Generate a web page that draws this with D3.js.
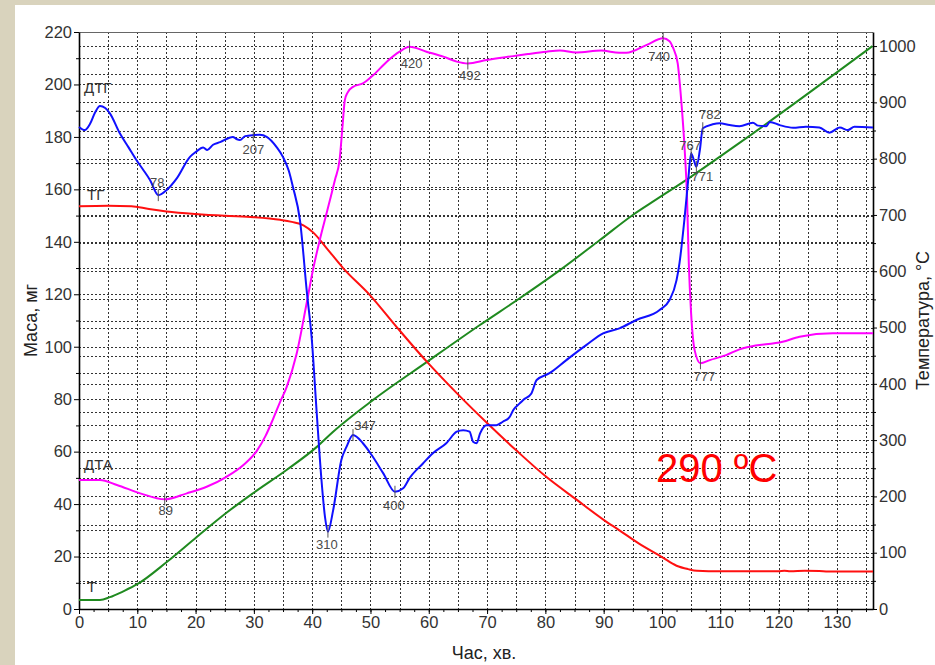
<!DOCTYPE html>
<html>
<head>
<meta charset="utf-8">
<script src="https://cdn.jsdelivr.net/npm/d3@7"></script>
<style>
  body { margin: 0; background: #d9d3bd; }
  svg { display: block; font-family: "Liberation Sans", Arial, sans-serif; }
</style>
</head>
<body>
<svg id="chart"></svg>
<script>
// time, min / values
var tgTime  = [0, 5, 9, 12, 15, 20, 25, 30, 34.5, 36.5, 38.5, 40.2, 42.5, 45.3, 49.9, 54.5, 59.7, 64.8, 70, 75, 80.2, 85.4, 90, 92.7, 96, 100, 102.5, 104.5, 106, 110, 120, 121, 122, 124.5, 127, 128.5, 136.2];
var tgMass  = [153.6, 153.8, 153.6, 152.5, 151.6, 150.6, 149.9, 149.4, 148.4, 147.6, 146.3, 143.5, 137.5, 130, 119.7, 107.5, 94.2, 82.3, 70.9, 60.5, 50.3, 41.6, 34, 30, 25, 19.8, 16.5, 15.2, 14.6, 14.4, 14.4, 14.6, 14.4, 14.6, 14.5, 14.3, 14.3];

var dtgTime = [0, 1, 1.9, 2.8, 3.6, 4.5, 5.3, 7, 8.5, 9.9, 11, 12.2, 13.6, 15, 16.8, 19, 20, 21.3, 22, 23, 24.2, 26.4, 27, 27.6, 28.5, 29.9, 31, 32.2, 33.9, 35, 36, 36.7, 37.9, 39.1, 39.9, 40.8, 41.6, 42.2, 42.7, 43.6, 45, 45.9, 47, 48.7, 50.2, 52.2, 54.2, 55.6, 56.7, 59, 60.7, 63, 64.8, 65.9, 67, 67.6, 68.2, 68.8, 69.9, 71.6, 72.7, 73.9, 74.5, 75.6, 76.2, 77.6, 78.5, 80.7, 83.6, 87, 89.9, 92.7, 95.6, 99.6, 101.3, 102.5, 103, 103.9, 104.5, 105, 105.5, 105.9, 106.5, 107, 108.7, 109.9, 111.6, 113.3, 115.6, 116.5, 117.9, 118.5, 120.2, 122.5, 124.7, 127, 128.7, 130.5, 131.9, 133, 136.2];
var dtgValue = [183.8, 182.6, 185, 189.5, 191.8, 191, 189, 181.4, 176, 171, 167.5, 163.5, 157.8, 159.7, 164.3, 172.3, 174.2, 176, 175, 177, 178, 180, 179.2, 178.8, 180.3, 180.7, 180.8, 180, 176.1, 172.3, 167, 160.9, 148.3, 120.5, 103.7, 74, 49, 35, 29.5, 37.7, 56.8, 61.9, 66.3, 63.2, 58.7, 51.7, 44.7, 46, 49.9, 55.5, 59.4, 63.2, 67.6, 68.2, 67.6, 63.8, 63.2, 67, 70.1, 70.1, 71.4, 73.3, 75.9, 78.4, 79.7, 82.2, 87.3, 89.9, 94.9, 100.6, 105.1, 107, 110.2, 114, 117.8, 125.4, 131.8, 149.6, 163.6, 173.7, 171, 168.6, 175, 183.3, 184.8, 185.2, 184.5, 184.1, 185.4, 184.3, 184.1, 185.7, 184.5, 183.5, 183.9, 183.6, 181.6, 183.6, 182.6, 183.9, 183.6];

var dtaTime = [0, 3.6, 6.5, 10.5, 14.7, 18.5, 21.9, 25.3, 28.2, 30.5, 32, 33.3, 34.5, 35.6, 37.3, 39, 40.2, 41.3, 42.6, 43.9, 44.7, 45.2, 45.6, 46.1, 47, 48.7, 50.5, 52.8, 55, 56.7, 59.6, 62.5, 64.8, 66.7, 69.9, 74.5, 77, 80.2, 82.5, 85.3, 89.6, 92.7, 93.9, 97.3, 100.2, 101.3, 101.9, 102.7, 103.3, 103.9, 104.3, 104.6, 105, 105.6, 106.6, 108.2, 111, 113.3, 115, 120.7, 123.6, 129.3, 136.2];
var dtaValue = [49.2, 49.2, 47.3, 44.1, 41.8, 44.1, 46.6, 50.4, 54.9, 60.3, 66, 72.5, 79, 84.5, 97, 116, 130, 140.7, 152, 163.6, 171.2, 184, 194, 197, 199.1, 200.4, 203.6, 208.7, 212.5, 214.4, 212.5, 210.6, 208.7, 208, 209.3, 210.8, 211.6, 212.5, 212.9, 212.2, 212.9, 212.1, 212.1, 215, 217.6, 216.5, 214, 208, 194, 175, 157, 132, 112.7, 98.7, 93.7, 94.9, 96.8, 99, 100, 101.9, 103.8, 105.1, 105.1];

var tempTime = [0, 3.6, 5.3, 7.5, 10, 15, 20.2, 25.3, 29.9, 35.6, 40.8, 43.5, 50.4, 59.7, 68.7, 75.6, 82.5, 89.3, 95, 99.1, 104.7, 113.3, 136.1];
var tempValue = [16, 16, 21, 31, 44, 83, 128, 171, 206, 247, 288, 314, 371, 439, 504, 552, 602, 655, 700, 728, 766, 828, 1000];

// peak marks: temperature label, time, curve value
var peakText  = ["78", "207", "420", "492", "740", "767", "771", "782", "777", "89", "310", "347", "400"];
var peakTime  = [13.6, 29.9, 56.7, 66.7, 100.2, 105, 105.9, 107, 106.6, 14.7, 42.7, 47, 54.2];
var peakValue = [157.8, 180.7, 214.4, 208, 217.6, 173.7, 168.6, 183.3, 93.7, 41.8, 29.5, 66.3, 44.7];

var curveNames  = ["ДТГ", "ТГ", "ДТА", "Т"];
var curveNameAt = [198.5, 158, 55, 8.5];

var xTicks = d3.range(0, 131, 10);
var massTicks = d3.range(0, 221, 20);
var tempTicks = d3.range(0, 1001, 100);

var width = 935, height = 665;
var margin = { top: 32, right: 62, bottom: 56, left: 79 };

var svg = d3.select("#chart").attr("width", width).attr("height", height);

svg.append("rect")
  .attr("x", 15).attr("y", 5)
  .attr("width", width - 15).attr("height", height - 5)
  .attr("fill", "#ffffff");

var xScale = d3.scaleLinear().domain([0, 136.2]).range([margin.left, width - margin.right]);
var yScale = d3.scaleLinear().domain([0, 220]).range([height - margin.bottom, margin.top]);
var tScale = d3.scaleLinear().domain([0, 1025]).range([height - margin.bottom, margin.top]);

// grid
var grid = svg.append("g")
  .attr("stroke", "#333")
  .attr("stroke-width", 1)
  .attr("stroke-dasharray", "2,2");

grid.selectAll(".vg").data(d3.range(5, 136, 5)).enter().append("line")
  .attr("x1", function(d) { return Math.round(xScale(d)) + 0.5; })
  .attr("x2", function(d) { return Math.round(xScale(d)) + 0.5; })
  .attr("y1", margin.top).attr("y2", height - margin.bottom);

grid.selectAll(".hg").data(d3.range(10, 211, 10)).enter().append("line")
  .attr("x1", margin.left).attr("x2", width - margin.right)
  .attr("y1", function(d) { return Math.round(yScale(d)) + 0.5; })
  .attr("y2", function(d) { return Math.round(yScale(d)) + 0.5; });

grid.selectAll(".tg").data(d3.range(50, 1001, 50)).enter().append("line")
  .attr("x1", margin.left).attr("x2", width - margin.right)
  .attr("y1", function(d) { return Math.round(tScale(d)) + 0.5; })
  .attr("y2", function(d) { return Math.round(tScale(d)) + 0.5; });

// top border
svg.append("line")
  .attr("x1", margin.left).attr("x2", width - margin.right)
  .attr("y1", margin.top + 0.5).attr("y2", margin.top + 0.5)
  .attr("stroke", "#666").attr("stroke-width", 1);

function styleAxis(g) {
  g.select(".domain").attr("stroke", "#000").attr("stroke-width", 1.6);
  g.selectAll(".tick line").attr("stroke", "#000");
  g.selectAll(".tick text")
    .attr("fill", "#333")
    .style("font-size", "16.5px")
    .style("font-family", "'Liberation Sans', Arial, sans-serif");
}

// minor ticks
function minor(axis, values, transform) {
  svg.append("g")
    .attr("transform", transform)
    .call(axis.tickValues(values).tickFormat("").tickSizeOuter(0))
    .call(function(g) {
      g.select(".domain").remove();
      g.selectAll(".tick line").attr("stroke", "#000");
    });
}

minor(d3.axisBottom(xScale).tickSize(3), d3.range(0, 136, 2.5), "translate(0," + (height - margin.bottom) + ")");
minor(d3.axisLeft(yScale).tickSize(3), d3.range(10, 220, 20), "translate(" + margin.left + ",0)");
minor(d3.axisRight(tScale).tickSize(3), d3.range(50, 1001, 100), "translate(" + (width - margin.right) + ",0)");

svg.append("g")
  .attr("transform", "translate(0," + (height - margin.bottom) + ")")
  .call(d3.axisBottom(xScale).tickValues(xTicks).tickSize(5).tickSizeOuter(0).tickPadding(2))
  .call(styleAxis);

svg.append("g")
  .attr("transform", "translate(" + margin.left + ",0)")
  .call(d3.axisLeft(yScale).tickValues(massTicks).tickSize(5).tickSizeOuter(0).tickPadding(2))
  .call(styleAxis);

svg.append("g")
  .attr("transform", "translate(" + (width - margin.right) + ",0)")
  .call(d3.axisRight(tScale).tickValues(tempTicks).tickFormat(d3.format("d")).tickSize(4).tickSizeOuter(0).tickPadding(2))
  .call(styleAxis);

// axis titles
svg.append("text")
  .attr("transform", "translate(37," + ((margin.top + height - margin.bottom) / 2) + ") rotate(-90)")
  .attr("text-anchor", "middle")
  .attr("fill", "#222")
  .style("font-size", "18px")
  .text("Маса, мг");

svg.append("text")
  .attr("transform", "translate(929," + ((margin.top + height - margin.bottom) / 2) + ") rotate(-90)")
  .attr("text-anchor", "middle")
  .attr("fill", "#222")
  .style("font-size", "18px")
  .text("Температура, °С");

svg.append("text")
  .attr("x", 484).attr("y", 659)
  .attr("text-anchor", "middle")
  .attr("fill", "#222")
  .style("font-size", "18px")
  .text("Час, хв.");

// curves
function drawCurve(times, values, scale, color) {
  var pts = times.map(function(t, i) { return [t, values[i]]; });
  var line = d3.line()
    .x(function(d) { return xScale(d[0]); })
    .y(function(d) { return scale(d[1]); })
    .curve(d3.curveMonotoneX);
  svg.append("path")
    .datum(pts)
    .attr("d", line)
    .attr("fill", "none")
    .attr("stroke", color)
    .attr("stroke-width", 2)
    .attr("stroke-linejoin", "round");
}

drawCurve(tempTime, tempValue, tScale, "#1f8a1f");
drawCurve(tgTime, tgMass, yScale, "#ff1010");
drawCurve(dtaTime, dtaValue, yScale, "#ff00ff");
drawCurve(dtgTime, dtgValue, yScale, "#1010ff");

// peak marks and labels
var labelOffset = [[-1, -8], [0, 19], [2, 21], [2, 17], [-4, 23], [-1, -3], [6, 14], [7, -9], [4, 18], [1, 16], [-1, 17], [12, -5], [-1, 18]];

svg.selectAll(".pk").data(peakText).enter().append("line")
  .attr("x1", function(d, i) { return xScale(peakTime[i]); })
  .attr("x2", function(d, i) { return xScale(peakTime[i]); })
  .attr("y1", function(d, i) { return yScale(peakValue[i]) - 6; })
  .attr("y2", function(d, i) { return yScale(peakValue[i]) + 6; })
  .attr("stroke", "#555").attr("stroke-width", 1);

svg.selectAll(".pl").data(peakText).enter().append("text")
  .attr("x", function(d, i) { return xScale(peakTime[i]) + labelOffset[i][0]; })
  .attr("y", function(d, i) { return yScale(peakValue[i]) + labelOffset[i][1]; })
  .attr("text-anchor", "middle")
  .attr("fill", "#4a4a4a")
  .style("font-size", "13px")
  .text(function(d) { return d; });

// curve names
svg.selectAll(".cn").data(curveNames).enter().append("text")
  .attr("x", function(d, i) { return margin.left + (i % 2 === 1 ? 8 : 5); })
  .attr("y", function(d, i) { return yScale(curveNameAt[i]) + 5; })
  .attr("fill", "#333")
  .style("font-size", "15px")
  .text(function(d) { return d; });

svg.append("text")
  .attr("x", 656).attr("y", 482)
  .attr("fill", "#ff0000")
  .style("font-size", "40px")
  .text("290 ºC");
</script>
</body>
</html>
